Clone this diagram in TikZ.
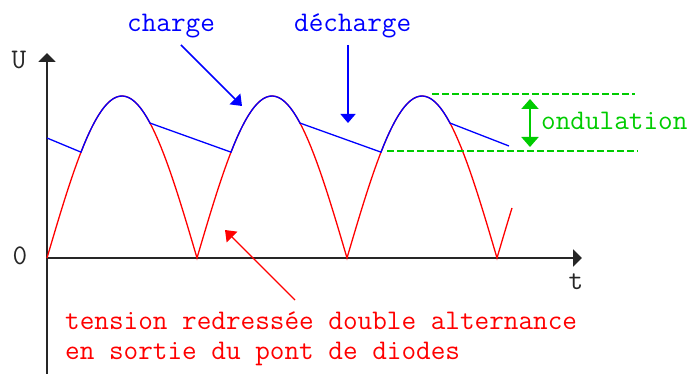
\documentclass[tikz,border=0pt]{standalone}
\usepackage{fontspec}
\usetikzlibrary{arrows.meta}
\definecolor{ondgreen}{RGB}{0,204,0}
\begin{document}
\begin{tikzpicture}[x=1pt,y=-1pt,>={Triangle[width=17pt,length=9pt]},
  lbl/.style={font=\ttfamily\fontsize{28.4}{30}\selectfont,inner sep=0pt},
  axe/.style={->,line width=2pt,black!85}]
 \useasboundingbox (0,0) rectangle (699,374);
 % axes
 \coordinate (O) at (47,258);
 \coordinate (Utop) at (47,53);
 \coordinate (Ubot) at (47,374);
 \coordinate (tend) at (582,258);
 \draw[axe] (Ubot) -- (Utop);
 \draw[axe] (O) -- (tend);
 \node[lbl,anchor=base,black!85] (U) at (19,69) {U};
 \node[lbl,anchor=base,black!85] (zero) at (20,265) {0};
 \node[lbl,anchor=base,black!85] (t) at (576,289) {t};
 % tension redressee
 \draw[red,line width=1.3pt] plot[domain=47:512,samples=156]
   (\x,{258-162*abs(sin(1.2*(\x-47)))});
 % tension filtree
 \draw[blue,line width=1.3pt] (47,138)
   -- plot[domain=81:150,samples=24] (\x,{258-162*abs(sin(1.2*(\x-47)))})
   -- plot[domain=231:300,samples=24] (\x,{258-162*abs(sin(1.2*(\x-47)))})
   -- plot[domain=381:450,samples=24] (\x,{258-162*abs(sin(1.2*(\x-47)))})
   -- (509,146);
 % ondulation
 \draw[ondgreen,line width=1.6pt,dash pattern=on 7pt off 3pt] (432,94) -- (635,94);
 \draw[ondgreen,line width=1.6pt,dash pattern=on 7pt off 3pt] (387,151) -- (638,151);
 \coordinate (ondtop) at (530,99);
 \coordinate (ondbot) at (530,147);
 \draw[ondgreen,line width=2pt,<->,>={Triangle[width=17pt,length=10pt]}] (ondtop) -- (ondbot);
 \node[lbl,anchor=base west,ondgreen] (ond) at (541,130) {ondulation};
 % legendes
 \node[lbl,anchor=base west,blue] (charge) at (127,32) {charge};
 \node[lbl,anchor=base west,blue] (decharge) at (294,32) {décharge};
 \coordinate (chargefrom) at (181,45);
 \coordinate (chargetip) at (242,106);
 \coordinate (dechargefrom) at (348,45);
 \coordinate (dechargetip) at (348,123);
 \draw[blue,line width=1.5pt,->,>={Triangle[width=15pt,length=10pt]}] (chargefrom) -- (chargetip);
 \draw[blue,line width=1.5pt,->,>={Triangle[width=15pt,length=9pt]}] (dechargefrom) -- (dechargetip);
 \node[lbl,anchor=base west,red,align=left] (redresse) at (65,359)
   {tension redressée double alternance\\en sortie du pont de diodes};
 \coordinate (redfrom) at (295,300);
 \coordinate (redtip) at (225,230);
 \draw[red,line width=1.3pt,->,>={Triangle[width=15pt,length=10pt]}] (redfrom) -- (redtip);
\end{tikzpicture}
\end{document}
